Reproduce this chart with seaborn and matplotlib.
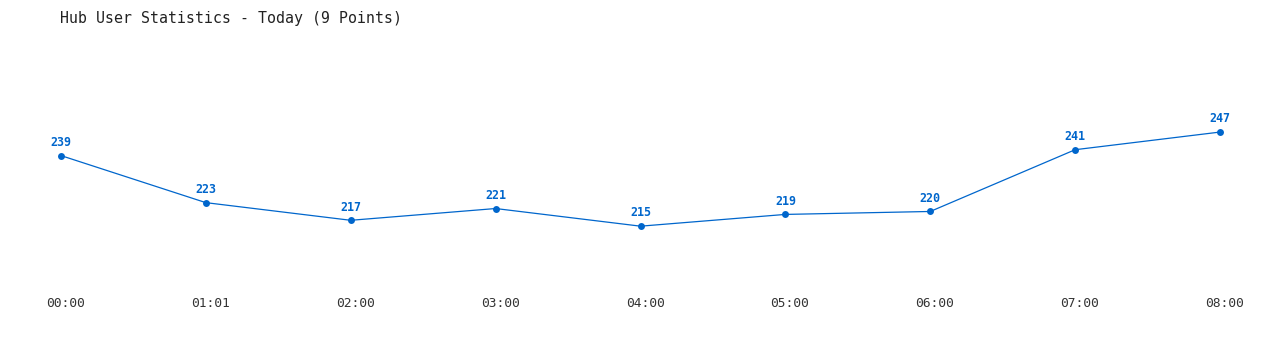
import matplotlib
matplotlib.use("Agg")
import matplotlib.pyplot as plt
import matplotlib.transforms as mtransforms
import seaborn as sns
import pandas as pd

times = ["00:00", "01:01", "02:00", "03:00", "04:00", "05:00", "06:00", "07:00", "08:00"]
users = [239, 223, 217, 221, 215, 219, 220, 241, 247]

sns.set_theme(style="white")
plt.rcParams['font.family'] = ['DejaVu Sans Mono', 'DejaVu Sans']

df = pd.DataFrame({"idx": range(len(times)), "users": users})

W, H = 1280, 350
fig = plt.figure(figsize=(W / 100, H / 100), dpi=100)
ax = fig.add_axes([0, 60 / H, 1, 290 / H])

color = "#0066cc"
sns.lineplot(data=df, x="idx", y="users", ax=ax, color=color, linewidth=0.9,
             marker="o", markersize=5, markeredgewidth=0, markerfacecolor=color)

for i, v in zip(df["idx"], df["users"]):
    ax.annotate(str(v), (i, v), xytext=(0, 9.5), textcoords="offset points",
                ha="center", va="center", fontsize=8.4, fontweight="bold",
                color=color)

ax.set_xlim(-0.421, 8.414)
ax.set_ylim(193.3, 291.9)
ax.set_xticks(list(df["idx"]))
ax.set_xticklabels(times, fontsize=9.3, color="#333333")
ax.tick_params(axis="x", length=0, pad=5)
offset = mtransforms.ScaledTranslation(4.5 / 100, 0, fig.dpi_scale_trans)
for lbl in ax.get_xticklabels():
    lbl.set_transform(lbl.get_transform() + offset)
ax.set_yticks([])
ax.set_xlabel("")
ax.set_ylabel("")
for s in ax.spines.values():
    s.set_visible(False)

fig.text(60 / W, 1 - 18 / H, "Hub User Statistics - Today (9 Points)",
         ha="left", va="center", fontsize=10.75, color="#222222")

fig.savefig("out.png", dpi=100, facecolor="white")
